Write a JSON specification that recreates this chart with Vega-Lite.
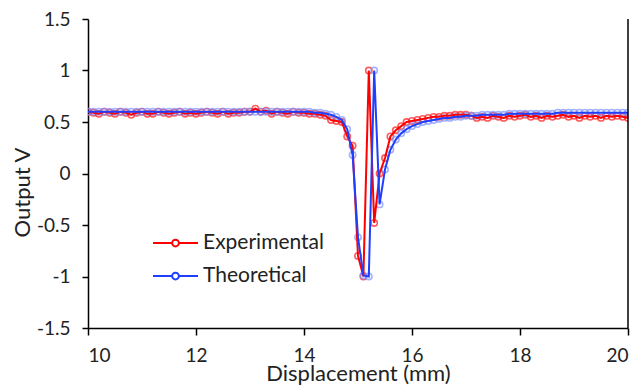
{
  "$schema": "https://vega.github.io/schema/vega-lite/v6.json",
  "width": 540,
  "height": 309,
  "autosize": {"type": "none"},
  "padding": {"left": 88, "top": 19, "right": 15, "bottom": 61},
  "background": "white",
  "config": {
    "view": {"stroke": null},
    "font": "Lato",
    "axis": {
      "grid": false,
      "domainColor": "#000000",
      "domainWidth": 1.5,
      "tickColor": "#000000",
      "tickWidth": 1.5,
      "labelColor": "#222222",
      "titleColor": "#222222",
      "labelFont": "Lato",
      "titleFont": "Lato",
      "titleFontWeight": "normal"
    }
  },
  "data": {
    "values": [
      {"x": 10.0, "Experimental": 0.60, "Theoretical": 0.60},
      {"x": 10.1, "Experimental": 0.59, "Theoretical": 0.60},
      {"x": 10.2, "Experimental": 0.58, "Theoretical": 0.60},
      {"x": 10.3, "Experimental": 0.60, "Theoretical": 0.60},
      {"x": 10.4, "Experimental": 0.59, "Theoretical": 0.60},
      {"x": 10.5, "Experimental": 0.58, "Theoretical": 0.60},
      {"x": 10.6, "Experimental": 0.60, "Theoretical": 0.60},
      {"x": 10.7, "Experimental": 0.59, "Theoretical": 0.60},
      {"x": 10.8, "Experimental": 0.57, "Theoretical": 0.60},
      {"x": 10.9, "Experimental": 0.59, "Theoretical": 0.60},
      {"x": 11.0, "Experimental": 0.60, "Theoretical": 0.60},
      {"x": 11.1, "Experimental": 0.58, "Theoretical": 0.60},
      {"x": 11.2, "Experimental": 0.58, "Theoretical": 0.60},
      {"x": 11.3, "Experimental": 0.60, "Theoretical": 0.60},
      {"x": 11.4, "Experimental": 0.59, "Theoretical": 0.60},
      {"x": 11.5, "Experimental": 0.58, "Theoretical": 0.60},
      {"x": 11.6, "Experimental": 0.59, "Theoretical": 0.60},
      {"x": 11.7, "Experimental": 0.60, "Theoretical": 0.60},
      {"x": 11.8, "Experimental": 0.58, "Theoretical": 0.60},
      {"x": 11.9, "Experimental": 0.59, "Theoretical": 0.60},
      {"x": 12.0, "Experimental": 0.58, "Theoretical": 0.60},
      {"x": 12.1, "Experimental": 0.59, "Theoretical": 0.60},
      {"x": 12.2, "Experimental": 0.60, "Theoretical": 0.60},
      {"x": 12.3, "Experimental": 0.59, "Theoretical": 0.60},
      {"x": 12.4, "Experimental": 0.58, "Theoretical": 0.60},
      {"x": 12.5, "Experimental": 0.60, "Theoretical": 0.60},
      {"x": 12.6, "Experimental": 0.58, "Theoretical": 0.60},
      {"x": 12.7, "Experimental": 0.59, "Theoretical": 0.60},
      {"x": 12.8, "Experimental": 0.59, "Theoretical": 0.60},
      {"x": 12.9, "Experimental": 0.60, "Theoretical": 0.60},
      {"x": 13.0, "Experimental": 0.60, "Theoretical": 0.60},
      {"x": 13.1, "Experimental": 0.63, "Theoretical": 0.60},
      {"x": 13.2, "Experimental": 0.60, "Theoretical": 0.60},
      {"x": 13.3, "Experimental": 0.61, "Theoretical": 0.60},
      {"x": 13.4, "Experimental": 0.58, "Theoretical": 0.60},
      {"x": 13.5, "Experimental": 0.60, "Theoretical": 0.60},
      {"x": 13.6, "Experimental": 0.59, "Theoretical": 0.60},
      {"x": 13.7, "Experimental": 0.58, "Theoretical": 0.60},
      {"x": 13.8, "Experimental": 0.60, "Theoretical": 0.60},
      {"x": 13.9, "Experimental": 0.59, "Theoretical": 0.60},
      {"x": 14.0, "Experimental": 0.59, "Theoretical": 0.60},
      {"x": 14.1, "Experimental": 0.58, "Theoretical": 0.60},
      {"x": 14.2, "Experimental": 0.58, "Theoretical": 0.59},
      {"x": 14.3, "Experimental": 0.57, "Theoretical": 0.59},
      {"x": 14.4, "Experimental": 0.56, "Theoretical": 0.58},
      {"x": 14.5, "Experimental": 0.52, "Theoretical": 0.57},
      {"x": 14.6, "Experimental": 0.51, "Theoretical": 0.55},
      {"x": 14.7, "Experimental": 0.50, "Theoretical": 0.52},
      {"x": 14.8, "Experimental": 0.36, "Theoretical": 0.43},
      {"x": 14.9, "Experimental": 0.27, "Theoretical": 0.18},
      {"x": 15.0, "Experimental": -0.80, "Theoretical": -0.62},
      {"x": 15.1, "Experimental": -1.00, "Theoretical": -0.99},
      {"x": 15.2, "Experimental": 1.00, "Theoretical": -1.00},
      {"x": 15.3, "Experimental": -0.48, "Theoretical": 1.00},
      {"x": 15.4, "Experimental": 0.00, "Theoretical": -0.30},
      {"x": 15.5, "Experimental": 0.15, "Theoretical": 0.04},
      {"x": 15.6, "Experimental": 0.36, "Theoretical": 0.23},
      {"x": 15.7, "Experimental": 0.42, "Theoretical": 0.33},
      {"x": 15.8, "Experimental": 0.46, "Theoretical": 0.39},
      {"x": 15.9, "Experimental": 0.50, "Theoretical": 0.43},
      {"x": 16.0, "Experimental": 0.51, "Theoretical": 0.46},
      {"x": 16.1, "Experimental": 0.52, "Theoretical": 0.48},
      {"x": 16.2, "Experimental": 0.53, "Theoretical": 0.50},
      {"x": 16.3, "Experimental": 0.54, "Theoretical": 0.51},
      {"x": 16.4, "Experimental": 0.55, "Theoretical": 0.52},
      {"x": 16.5, "Experimental": 0.55, "Theoretical": 0.53},
      {"x": 16.6, "Experimental": 0.56, "Theoretical": 0.54},
      {"x": 16.7, "Experimental": 0.56, "Theoretical": 0.54},
      {"x": 16.8, "Experimental": 0.57, "Theoretical": 0.55},
      {"x": 16.9, "Experimental": 0.57, "Theoretical": 0.55},
      {"x": 17.0, "Experimental": 0.57, "Theoretical": 0.56},
      {"x": 17.1, "Experimental": 0.56, "Theoretical": 0.56},
      {"x": 17.2, "Experimental": 0.54, "Theoretical": 0.56},
      {"x": 17.3, "Experimental": 0.55, "Theoretical": 0.57},
      {"x": 17.4, "Experimental": 0.54, "Theoretical": 0.57},
      {"x": 17.5, "Experimental": 0.56, "Theoretical": 0.57},
      {"x": 17.6, "Experimental": 0.55, "Theoretical": 0.57},
      {"x": 17.7, "Experimental": 0.54, "Theoretical": 0.57},
      {"x": 17.8, "Experimental": 0.56, "Theoretical": 0.58},
      {"x": 17.9, "Experimental": 0.55, "Theoretical": 0.58},
      {"x": 18.0, "Experimental": 0.56, "Theoretical": 0.58},
      {"x": 18.1, "Experimental": 0.57, "Theoretical": 0.58},
      {"x": 18.2, "Experimental": 0.55, "Theoretical": 0.58},
      {"x": 18.3, "Experimental": 0.56, "Theoretical": 0.58},
      {"x": 18.4, "Experimental": 0.54, "Theoretical": 0.58},
      {"x": 18.5, "Experimental": 0.56, "Theoretical": 0.58},
      {"x": 18.6, "Experimental": 0.55, "Theoretical": 0.58},
      {"x": 18.7, "Experimental": 0.56, "Theoretical": 0.59},
      {"x": 18.8, "Experimental": 0.57, "Theoretical": 0.59},
      {"x": 18.9, "Experimental": 0.55, "Theoretical": 0.59},
      {"x": 19.0, "Experimental": 0.56, "Theoretical": 0.59},
      {"x": 19.1, "Experimental": 0.54, "Theoretical": 0.59},
      {"x": 19.2, "Experimental": 0.56, "Theoretical": 0.59},
      {"x": 19.3, "Experimental": 0.55, "Theoretical": 0.59},
      {"x": 19.4, "Experimental": 0.56, "Theoretical": 0.59},
      {"x": 19.5, "Experimental": 0.54, "Theoretical": 0.59},
      {"x": 19.6, "Experimental": 0.56, "Theoretical": 0.59},
      {"x": 19.7, "Experimental": 0.55, "Theoretical": 0.59},
      {"x": 19.8, "Experimental": 0.56, "Theoretical": 0.59},
      {"x": 19.9, "Experimental": 0.55, "Theoretical": 0.59},
      {"x": 20.0, "Experimental": 0.54, "Theoretical": 0.59}
    ]
  },
  "resolve": {"scale": {"color": "independent"}, "legend": {"color": "independent"}},
  "layer": [
    {
      "transform": [{"fold": ["Experimental", "Theoretical"], "as": ["Series", "Output"]}],
      "mark": {"type": "point", "filled": false, "size": 40, "strokeWidth": 1.6, "clip": true},
      "encoding": {
        "x": {
          "field": "x", "type": "quantitative",
          "scale": {"domain": [10, 20], "nice": false, "zero": false},
          "axis": {
            "values": [10, 12, 14, 16, 18, 20],
            "labelFontSize": 19,
            "tickSize": 7,
            "labelPadding": 11,
            "title": "Displacement (mm)",
            "titleFontSize": 22,
            "titlePadding": -2
          }
        },
        "y": {
          "field": "Output", "type": "quantitative",
          "scale": {"domain": [-1.5, 1.5], "nice": false, "zero": false},
          "axis": {
            "values": [-1.5, -1, -0.5, 0, 0.5, 1, 1.5],
            "labelExpr": "toString(datum.value)",
            "labelFontSize": 19,
            "tickSize": 6,
            "labelPadding": 12,
            "title": "Output V",
            "titleFontSize": 22,
            "titleX": -54,
            "titleY": 173
          }
        },
        "color": {
          "field": "Series", "type": "nominal",
          "scale": {"domain": ["Experimental", "Theoretical"], "range": ["#ff1a1a", "#7d93ff"]},
          "legend": null
        }
      }
    },
    {
      "transform": [{"fold": ["Experimental", "Theoretical"], "as": ["Series", "Output"]}],
      "mark": {"type": "line", "strokeWidth": 2, "clip": true},
      "encoding": {
        "x": {"field": "x", "type": "quantitative"},
        "y": {"field": "Output", "type": "quantitative"},
        "color": {
          "field": "Series", "type": "nominal",
          "scale": {"domain": ["Experimental", "Theoretical"], "range": ["#ff0000", "#1f3fff"]},
          "legend": {
            "orient": "none",
            "legendX": 64,
            "legendY": 214,
            "title": null,
            "padding": 0,
            "symbolType": "M-1,0L-0.15,0M0.15,0L1,0M-0.15,0A0.15,0.15,0,1,0,0.15,0A0.15,0.15,0,1,0,-0.15,0",
            "symbolSize": 2025,
            "symbolStrokeWidth": 2,
            "symbolFillColor": "transparent",
            "clipHeight": 20,
            "rowPadding": 12,
            "labelOffset": 4,
            "labelFontSize": 21,
            "labelColor": "#222222",
            "labelFont": "Lato"
          }
        }
      }
    },
    {
      "data": {"values": [{"edge": 20}]},
      "mark": {"type": "rule", "color": "#000000", "strokeWidth": 1.5},
      "encoding": {
        "x": {"field": "edge", "type": "quantitative"}
      }
    }
  ]
}
